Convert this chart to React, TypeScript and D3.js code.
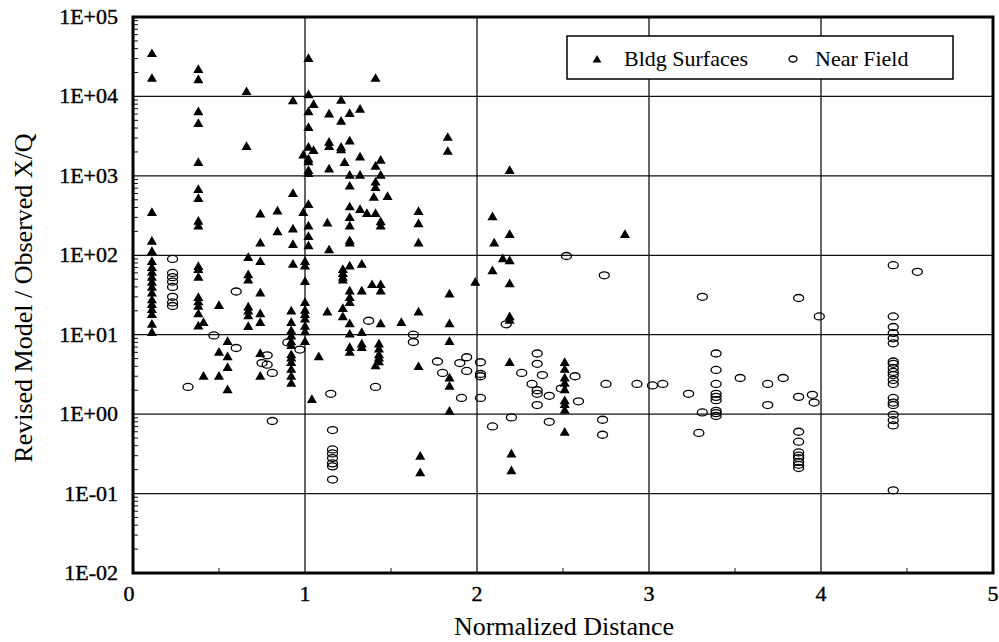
import React from "react";
import * as d3 from "d3";

// ---- data ----
const xTicks = [0, 1, 2, 3, 4, 5];
const yTicks = [1e-2, 1e-1, 1, 10, 100, 1e3, 1e4, 1e5];
const yTickLabels = ["1E-02", "1E-01", "1E+00", "1E+01", "1E+02", "1E+03", "1E+04", "1E+05"];
const xLabel = "Normalized Distance";
const yLabel = "Revised Model / Observed X/Q";
const seriesNames = ["Bldg Surfaces", "Near Field"];

// grouped as [normalized distance, [ratios...]]
const bldgSurfaces: [number, number[]][] = [
  [0.11, [34000, 16600, 340, 148, 110, 82, 69, 60, 52, 45, 39, 33, 27, 23.6, 20.4, 17.7, 13.3, 10.5]],
  [0.38, [21500, 16000, 6300, 4500, 1450, 660, 510, 263, 230, 71, 65, 52, 29, 25.5, 22.5, 18, 12.7]],
  [0.41, [14, 2.95]],
  [0.5, [23, 5.9, 2.95]],
  [0.55, [8.1, 5.2, 3.8, 2.0]],
  [0.66, [11300, 2300]],
  [0.67, [92, 56, 48, 22, 19.6, 17, 12.5]],
  [0.74, [325, 140, 82, 33, 18, 14, 5.7, 2.95]],
  [0.84, [355, 195]],
  [0.93, [8700, 590, 210, 134, 76]],
  [0.92, [19.5, 14, 11, 9.5, 8, 7.2, 5.5, 5.0, 4.4, 3.6, 2.95, 2.4]],
  [0.99, [1800, 340]],
  [1.0, [82, 72, 46, 25, 20, 17.7, 15.5, 12.6, 10.7, 8.1]],
  [1.02, [29500, 10300, 6300, 4000, 2250, 1600, 1480, 1150, 1050, 430, 230, 170, 130]],
  [1.04, [1.5]],
  [1.05, [7800, 2050]],
  [1.08, [5.2]],
  [1.13, [250, 19]],
  [1.14, [5900, 2600, 2300, 1200, 115]],
  [1.21, [8800, 4800, 2250, 2100]],
  [1.22, [65, 58, 52, 48, 21, 16.5]],
  [1.23, [1450]],
  [1.26, [6000, 2700, 1000, 730, 400, 295, 230, 150, 140, 72, 35, 29, 25, 13.5, 10, 6.8, 5.9]],
  [1.32, [6800, 1700, 1000, 370]],
  [1.33, [76, 35, 10.5, 7.5, 6.8]],
  [1.36, [330]],
  [1.39, [42]],
  [1.4, [530]],
  [1.41, [16600, 1300, 820, 700, 330, 4.0]],
  [1.43, [7.5, 6.5, 5.5, 5.0, 4.5]],
  [1.44, [1550, 1000, 260, 230, 42, 35, 13.5]],
  [1.48, [540]],
  [1.56, [14]],
  [1.66, [350, 245, 140, 19, 3.9]],
  [1.67, [0.29, 0.18]],
  [1.83, [3000, 2000]],
  [1.84, [32, 13.5, 8.1, 2.8, 2.2, 1.07]],
  [1.99, [45]],
  [2.09, [300, 63]],
  [2.1, [140]],
  [2.15, [89]],
  [2.19, [1150, 180, 84, 43, 16.6, 15, 4.4]],
  [2.2, [0.31, 0.19]],
  [2.51, [4.4, 3.6, 2.8, 2.4, 2.0, 1.45, 1.3, 1.1, 0.58]],
  [2.86, [180]],
];

const nearField: [number, number[]][] = [
  [0.23, [90, 60, 53, 46.5, 40, 30, 25.5, 23]],
  [0.32, [2.2]],
  [0.47, [9.8]],
  [0.6, [35, 6.8]],
  [0.75, [4.4]],
  [0.78, [5.5, 4.2]],
  [0.81, [3.3, 0.82]],
  [0.9, [8]],
  [0.97, [6.5]],
  [1.15, [1.8]],
  [1.16, [0.63, 0.36, 0.32, 0.28, 0.24, 0.22, 0.15]],
  [1.37, [15]],
  [1.41, [2.2]],
  [1.63, [10, 8.1]],
  [1.77, [4.6]],
  [1.8, [3.3]],
  [1.9, [4.4]],
  [1.91, [1.6]],
  [1.94, [5.2, 3.5]],
  [2.02, [4.5, 3.2, 3.0, 1.6]],
  [2.09, [0.7]],
  [2.17, [13.5]],
  [2.2, [0.91]],
  [2.26, [3.3]],
  [2.32, [2.4]],
  [2.35, [5.8, 4.3, 2.0, 1.8, 1.3]],
  [2.38, [3.1]],
  [2.42, [1.7, 0.8]],
  [2.49, [2.1]],
  [2.52, [98]],
  [2.57, [3.0]],
  [2.59, [1.45]],
  [2.73, [0.85, 0.55]],
  [2.74, [56]],
  [2.75, [2.4]],
  [2.93, [2.4]],
  [3.02, [2.3]],
  [3.08, [2.4]],
  [3.23, [1.8]],
  [3.29, [0.58]],
  [3.31, [30, 1.05]],
  [3.39, [5.8, 3.6, 2.4, 1.8, 1.65, 1.5, 1.1, 1.03, 0.95]],
  [3.53, [2.85]],
  [3.69, [2.4, 1.3]],
  [3.78, [2.85]],
  [3.87, [29, 1.65, 0.6, 0.45, 0.33, 0.3, 0.28, 0.25, 0.23, 0.21]],
  [3.95, [1.75]],
  [3.96, [1.4]],
  [3.99, [17]],
  [4.42, [75, 17, 12.5, 10.5, 9, 7.8, 4.6, 4.3, 3.8, 3.4, 3.1, 2.7, 2.4, 1.6, 1.4, 1.3, 0.98, 0.84, 0.72, 0.11]],
  [4.56, [62]],
];

const flatten = (g: [number, number[]][]) =>
  g.flatMap(([x, ys]) => ys.map((y) => ({ x, y })));

const W = 999;
const H = 642;
const left = 133, right = 993, top = 17, bottom = 573;
const FONT = '"Liberation Serif"';
const textStyle: React.CSSProperties = { fontFamily: FONT };

export default function App() {
  const x = d3.scaleLinear().domain([0, 5]).range([left, right]);
  const y = d3.scaleLog().domain([1e-2, 1e5]).range([bottom, top]);

  const tri = d3.symbol(d3.symbolTriangle).size(44)() as string;
  const triLeg = d3.symbol(d3.symbolTriangle).size(34)() as string;

  const bPts = flatten(bldgSurfaces);
  const nPts = flatten(nearField);

  // minor log ticks
  const minor: number[] = [];
  for (let e = -2; e < 5; e++) {
    for (let m = 2; m <= 9; m++) minor.push(m * Math.pow(10, e));
  }
  const xMinor = [0.5, 1.5, 2.5, 3.5, 4.5];

  return (
    <svg
      width={W}
      height={H}
      style={{ position: "absolute", left: 0, top: 0, background: "#fff" }}
    >
      <rect x={0} y={0} width={W} height={H} fill="#fff" />
      {/* gridlines */}
      {yTicks.slice(1, -1).map((t) => (
        <line key={"gy" + t} x1={left} x2={right} y1={y(t)} y2={y(t)} stroke="#111" strokeWidth={1.3} />
      ))}
      {xTicks.slice(1, -1).map((t) => (
        <line key={"gx" + t} x1={x(t)} x2={x(t)} y1={top} y2={bottom} stroke="#111" strokeWidth={1.3} />
      ))}
      {/* minor ticks */}
      {minor.map((m, i) => (
        <line key={"my" + i} x1={left} x2={left + 5} y1={y(m)} y2={y(m)} stroke="#111" strokeWidth={1} />
      ))}
      {xMinor.map((m) => (
        <line key={"mx" + m} x1={x(m)} x2={x(m)} y1={bottom} y2={bottom - 5} stroke="#111" strokeWidth={1} />
      ))}

      {/* markers */}
      {bPts.map((p, i) => (
        <path key={"b" + i} d={tri} transform={`translate(${x(p.x)},${y(p.y)})`} fill="#000" />
      ))}
      {nPts.map((p, i) => (
        <ellipse key={"n" + i} cx={x(p.x)} cy={y(p.y)} rx={5} ry={3.5} fill="none" stroke="#000" strokeWidth={1.3} />
      ))}

      {/* frame */}
      <rect x={left} y={top} width={right - left} height={bottom - top} fill="none" stroke="#000" strokeWidth={3} />

      {/* y tick labels */}
      {yTicks.map((t, i) => (
        <text key={"yl" + t} x={118} y={y(t) + 7} textAnchor="end" fontSize={22} fill="#000" stroke="#000" strokeWidth={0.4} style={textStyle}>
          {yTickLabels[i]}
        </text>
      ))}
      {/* x tick labels */}
      {xTicks.map((t) => (
        <text key={"xl" + t} x={x(t) - (t === 0 ? 4 : 0)} y={601} textAnchor="middle" fontSize={22} fill="#000" stroke="#000" strokeWidth={0.4} style={textStyle}>
          {t}
        </text>
      ))}

      {/* axis titles */}
      <text x={564} y={635} textAnchor="middle" fontSize={26} fill="#000" style={textStyle}>
        {xLabel}
      </text>
      <text
        transform={`translate(32,${298}) rotate(-90)`}
        textAnchor="middle"
        fontSize={26}
        fill="#000"
        style={textStyle}
      >
        {yLabel}
      </text>

      {/* legend */}
      <rect x={567} y={36} width={386} height={43} fill="#fff" stroke="#000" strokeWidth={1.5} />
      <path d={triLeg} transform="translate(597,60)" fill="#000" />
      <text x={624} y={66} fontSize={22} fill="#000" style={textStyle}>
        {seriesNames[0]}
      </text>
      <ellipse cx={793} cy={59} rx={4} ry={3} fill="none" stroke="#000" strokeWidth={1.3} />
      <text x={815} y={66} fontSize={22} fill="#000" style={textStyle}>
        {seriesNames[1]}
      </text>
    </svg>
  );
}
